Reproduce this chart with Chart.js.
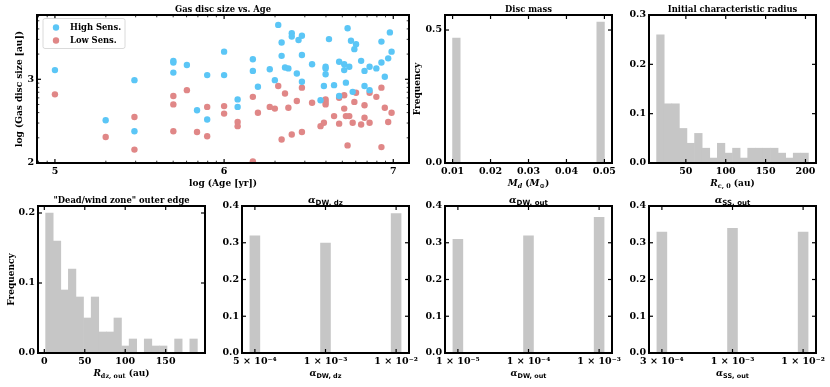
<!DOCTYPE html>
<html>
<head>
<meta charset="utf-8">
<script src="https://cdn.jsdelivr.net/npm/chart.js@4/dist/chart.umd.min.js"></script>
<style>
html, body { margin: 0; padding: 0; background: #fff; }
#wrap { position: relative; width: 830px; height: 387px; }
#wrap canvas { position: absolute; left: 0; top: 0; }
</style>
</head>
<body>
<div id="wrap">
<canvas id="age" width="830" height="387"></canvas>
<canvas id="mass" width="830" height="387"></canvas>
<canvas id="rc0" width="830" height="387"></canvas>
<canvas id="rdz" width="830" height="387"></canvas>
<canvas id="adwdz" width="830" height="387"></canvas>
<canvas id="adwout" width="830" height="387"></canvas>
<canvas id="assout" width="830" height="387"></canvas>
</div>
<script>
// --- scatter: log(Age [yr]) vs log(Gas disc size [au])
var highAge = [5.00, 5.30, 5.47, 5.47, 5.70, 5.70, 5.70, 5.78, 5.84, 5.90, 5.90, 6.00, 6.00, 6.08, 6.08, 6.17,
  6.17, 6.20, 6.27, 6.30, 6.32, 6.34, 6.34, 6.36, 6.38, 6.40, 6.40, 6.43, 6.44, 6.46, 6.46, 6.46,
  6.52, 6.57, 6.59, 6.60, 6.60, 6.60, 6.62, 6.65, 6.68, 6.68, 6.71, 6.71, 6.72, 6.73, 6.74, 6.75,
  6.76, 6.77, 6.78, 6.81, 6.83, 6.83, 6.86, 6.86, 6.90, 6.93, 6.93, 6.95, 6.97, 6.98, 6.99];
var highSize = [3.11, 2.51, 2.99, 2.38, 3.22, 3.20, 3.08, 3.17, 2.63, 3.05, 2.52, 3.33, 3.05, 2.76, 2.67, 3.24,
  3.10, 2.91, 3.12, 2.99, 3.65, 3.44, 3.28, 3.14, 3.13, 3.55, 3.51, 3.07, 3.47, 3.52, 3.29, 2.97,
  3.18, 2.75, 2.92, 3.15, 3.13, 3.06, 3.48, 2.93, 3.21, 2.80, 3.18, 3.11, 2.96, 3.61, 3.15, 3.46,
  2.85, 3.36, 3.42, 3.22, 3.10, 2.92, 2.87, 3.15, 3.13, 3.45, 3.20, 3.03, 3.25, 3.56, 3.33];
var lowAge = [5.00, 5.30, 5.47, 5.47, 5.70, 5.70, 5.70, 5.78, 5.84, 5.90, 5.90, 6.00, 6.00, 6.08, 6.08, 6.17,
  6.17, 6.20, 6.27, 6.30, 6.32, 6.34, 6.36, 6.38, 6.40, 6.43, 6.46, 6.46, 6.52, 6.57, 6.59, 6.60,
  6.60, 6.60, 6.65, 6.68, 6.68, 6.71, 6.71, 6.72, 6.73, 6.74, 6.76, 6.77, 6.78, 6.81, 6.83, 6.83,
  6.86, 6.86, 6.90, 6.93, 6.93, 6.95, 6.97, 6.99];
var lowSize = [2.82, 2.31, 2.55, 2.16, 2.80, 2.70, 2.38, 2.87, 2.37, 2.67, 2.32, 2.68, 2.59, 2.49, 2.44, 2.79,
  2.02, 2.60, 2.67, 2.65, 2.92, 2.28, 2.83, 2.66, 2.34, 2.74, 2.90, 2.37, 2.72, 2.44, 2.48, 2.76,
  2.73, 2.70, 2.56, 2.78, 2.47, 2.81, 2.65, 2.56, 2.21, 2.56, 2.48, 2.73, 2.84, 2.46, 2.69, 2.54,
  2.48, 2.84, 2.79, 2.90, 2.19, 2.66, 2.49, 2.60];

// --- histograms (bin centres + frequency)
var massBins = [0.011, 0.013, 0.015, 0.017, 0.019, 0.021, 0.023, 0.025, 0.027, 0.029,
  0.031, 0.033, 0.035, 0.037, 0.039, 0.041, 0.043, 0.045, 0.047, 0.049];
var massFreq = [0.47, 0, 0, 0, 0, 0, 0, 0, 0, 0, 0, 0, 0, 0, 0, 0, 0, 0, 0, 0.53];

var rcBins = [18.1, 27.6, 37.1, 46.6, 56.1, 65.7, 75.2, 84.7, 94.2, 103.7,
  113.3, 122.8, 132.3, 141.8, 151.3, 160.9, 170.4, 179.9, 189.4, 198.9];
var rcFreq = [0.26, 0.12, 0.12, 0.07, 0.04, 0.06, 0.03, 0.01, 0.04, 0.02,
  0.03, 0.01, 0.03, 0.03, 0.03, 0.03, 0.02, 0.01, 0.02, 0.02];

var rdzBins = [6.3, 15.7, 25.1, 34.4, 43.8, 53.2, 62.6, 71.9, 81.3, 90.7,
  100.1, 109.5, 118.8, 128.2, 137.6, 147.0, 156.4, 165.7, 175.1, 184.5];
var rdzFreq = [0.20, 0.16, 0.09, 0.12, 0.08, 0.05, 0.08, 0.03, 0.03, 0.05,
  0.01, 0.02, 0, 0.02, 0.01, 0.01, 0, 0.02, 0, 0.02];

var alphaPos = [0, 1, 2];
var aDwDzLabels = ['5 × 10⁻⁴', '1 × 10⁻³', '1 × 10⁻²'];
var aDwDzFreq = [0.32, 0.30, 0.38];
var aDwOutLabels = ['1 × 10⁻⁵', '1 × 10⁻⁴', '1 × 10⁻³'];
var aDwOutFreq = [0.31, 0.32, 0.37];
var aSsOutLabels = ['3 × 10⁻⁴', '1 × 10⁻³', '1 × 10⁻²'];
var aSsOutFreq = [0.33, 0.34, 0.33];

var SERIF = '"DejaVu Serif", serif';
var SANS = '"DejaVu Sans", sans-serif';
var BAR = '#c6c6c6';
var YW = 30, XH = 24;

// draw a label made of pieces, some italic / subscript
function drawMath(ctx, parts, x, y, size) {
  if (typeof parts === 'string') parts = [{t: parts}];
  var pcs = parts.map(function (p) {
    var s = p.sub ? size * 0.72 : size;
    var f = (p.it ? 'italic ' : '') + 'bold ' + s + 'px ' + (p.sans ? SANS : SERIF);
    ctx.font = f;
    return {t: p.t, f: f, w: ctx.measureText(p.t).width, dy: p.sub ? size * 0.22 : 0};
  });
  var total = pcs.reduce(function (a, p) { return a + p.w; }, 0);
  var cx = x - total / 2;
  ctx.textAlign = 'left';
  ctx.textBaseline = 'alphabetic';
  pcs.forEach(function (p) { ctx.font = p.f; ctx.fillText(p.t, cx, y + p.dy); cx += p.w; });
}

var deco = {
  id: 'deco',
  afterDraw: function (chart, args, o) {
    var ctx = chart.ctx, a = chart.chartArea, x = chart.scales.x, y = chart.scales.y;
    ctx.save();
    ctx.strokeStyle = '#000';
    var seg = function (x1, y1, x2, y2) { ctx.beginPath(); ctx.moveTo(x1, y1); ctx.lineTo(x2, y2); ctx.stroke(); };
    var marks = function (sc, vals, len, w) {
      ctx.lineWidth = w;
      vals.forEach(function (v) {
        if (v < sc.min || v > sc.max) return;
        var p = sc.getPixelForValue(v);
        if (sc.isHorizontal()) { seg(p, a.bottom, p, a.bottom - len); seg(p, a.top, p, a.top + len); }
        else { seg(a.left, p, a.left + len, p); seg(a.right, p, a.right - len, p); }
      });
    };
    marks(x, x.ticks.map(function (t) { return t.value; }), 4, 1.2);
    marks(y, y.ticks.map(function (t) { return t.value; }), 4, 1.2);
    if (o.minorX) marks(x, o.minorX, 2.3, 0.8);
    if (o.minorY) marks(y, o.minorY, 2.3, 0.8);

    if (o.legend) {
      var L = o.legend;
      ctx.fillStyle = 'rgba(255,255,255,0.85)';
      ctx.strokeStyle = '#d0d0d0';
      ctx.lineWidth = 0.8;
      ctx.beginPath();
      ctx.roundRect(a.left + 6, a.top + 3.5, 82, 30, 2);
      ctx.fill(); ctx.stroke();
      L.forEach(function (it, i) {
        var cy = a.top + 12.5 + i * 13;
        ctx.fillStyle = it.color;
        ctx.beginPath(); ctx.arc(a.left + 19, cy, 3.2, 0, Math.PI * 2); ctx.fill();
        ctx.fillStyle = '#000';
        ctx.font = 'bold 8.4px ' + SERIF;
        ctx.textAlign = 'left'; ctx.textBaseline = 'middle';
        ctx.fillText(it.text, a.left + 33, cy + 0.5);
      });
    }

    ctx.strokeStyle = '#000';
    ctx.lineWidth = 2;
    ctx.strokeRect(a.left, a.top, a.right - a.left, a.bottom - a.top);
    ctx.fillStyle = '#000';
    drawMath(ctx, o.title, (a.left + a.right) / 2, a.top - 3.5, o.titleSize || 8.4);
    if (o.xlabel) drawMath(ctx, o.xlabel, (a.left + a.right) / 2, a.bottom + 23, 9);
    if (o.ylabel) {
      ctx.save();
      ctx.translate(o.ylabelX, (a.top + a.bottom) / 2);
      ctx.rotate(-Math.PI / 2);
      drawMath(ctx, o.ylabel, 0, 3.2, 9);
      ctx.restore();
    }
    ctx.restore();
  }
};

function axis(ax, horiz) {
  return {
    type: 'linear', min: ax.min, max: ax.max, offset: false,
    grid: {display: false, drawTicks: false}, border: {display: false},
    afterFit: function (s) { if (horiz) s.height = XH; else s.width = YW; },
    afterBuildTicks: function (s) { s.ticks = ax.ticks.map(function (v) { return {value: v}; }); },
    ticks: {
      font: {family: 'DejaVu Serif', weight: 'bold', size: 9.5}, color: '#000',
      padding: 3, autoSkip: false, maxRotation: 0, minRotation: 0,
      callback: function (v, i) { return ax.labels[i]; }
    }
  };
}

function panel(id, box, type, datasets, o) {
  return new Chart(document.getElementById(id), {
    type: type,
    data: {datasets: datasets},
    options: {
      responsive: false, animation: false, events: [],
      layout: {autoPadding: false, padding: {left: box[0] - YW, top: box[1], right: 830 - box[2], bottom: 387 - box[3] - XH}},
      plugins: {legend: {display: false}, tooltip: {enabled: false}, deco: o.deco},
      scales: {x: axis(o.x, true), y: axis(o.y, false)}
    },
    plugins: [deco]
  });
}

function bars(xs, ys, pct) {
  return [{
    data: xs.map(function (x, i) { return {x: x, y: ys[i]}; }),
    backgroundColor: BAR, borderWidth: 0,
    barPercentage: pct, categoryPercentage: 1
  }];
}

// minor tick positions for the log axes of the scatter
var minorAge = [], minorSize = [];
[4, 5, 6].forEach(function (n) { for (var k = 2; k <= 9; k++) minorAge.push(n + Math.log10(k)); });
[2, 3].forEach(function (n) { for (var k = 2; k <= 9; k++) minorSize.push(n + Math.log10(k)); });

var yFreq4 = {min: 0, max: 0.4, ticks: [0, 0.1, 0.2, 0.3, 0.4], labels: ['0.0', '0.1', '0.2', '0.3', '0.4']};
var alphaX = function (labels) { return {min: -0.1825, max: 2.1825, ticks: alphaPos, labels: labels}; };

panel('age', [37, 15, 409, 163], 'scatter', [
  {data: highAge.map(function (x, i) { return {x: x, y: highSize[i]}; }), backgroundColor: '#5bc6f6', pointRadius: 3.2, borderWidth: 0},
  {data: lowAge.map(function (x, i) { return {x: x, y: lowSize[i]}; }), backgroundColor: '#e08787', pointRadius: 3.2, borderWidth: 0}
], {
  x: {min: 4.894, max: 7.093, ticks: [5, 6, 7], labels: ['5', '6', '7']},
  y: {min: 2, max: 3.768, ticks: [2, 3], labels: ['2', '3']},
  deco: {title: 'Gas disc size vs. Age', xlabel: 'log (Age [yr])', ylabel: 'log (Gas disc size [au])', ylabelX: 18.5,
    minorX: minorAge, minorY: minorSize,
    legend: [{text: 'High Sens.', color: '#5bc6f6'}, {text: 'Low Sens.', color: '#e08787'}]}
});

panel('mass', [445, 15, 612, 163], 'bar', bars(massBins, massFreq, 1), {
  x: {min: 0.008, max: 0.052, ticks: [0.01, 0.02, 0.03, 0.04, 0.05], labels: ['0.01', '0.02', '0.03', '0.04', '0.05']},
  y: {min: 0, max: 0.5565, ticks: [0, 0.5], labels: ['0.0', '0.5']},
  deco: {title: 'Disc mass', ylabel: 'Frequency', ylabelX: 417,
    xlabel: [{t: 'M', it: 1}, {t: 'd', it: 1, sub: 1}, {t: ' ('}, {t: 'M', it: 1}, {t: '⊙', sub: 1}, {t: ')'}]}
});

panel('rc0', [649, 15, 816, 163], 'bar', bars(rcBins, rcFreq, 1), {
  x: {min: 3.8, max: 213.2, ticks: [50, 100, 150, 200], labels: ['50', '100', '150', '200']},
  y: {min: 0, max: 0.3, ticks: [0, 0.1, 0.2, 0.3], labels: ['0.0', '0.1', '0.2', '0.3']},
  deco: {title: 'Initial characteristic radius',
    xlabel: [{t: 'R', it: 1}, {t: 'c, 0', sub: 1}, {t: ' (au)'}]}
});

panel('rdz', [38, 206, 205, 353], 'bar', bars(rdzBins, rdzFreq, 1), {
  x: {min: -7.8, max: 198.6, ticks: [0, 50, 100, 150], labels: ['0', '50', '100', '150']},
  y: {min: 0, max: 0.21, ticks: [0, 0.1, 0.2], labels: ['0.0', '0.1', '0.2']},
  deco: {title: '"Dead/wind zone" outer edge', ylabel: 'Frequency', ylabelX: 10.5,
    xlabel: [{t: 'R', it: 1}, {t: 'dz, out', sub: 1}, {t: ' (au)'}]}
});

panel('adwdz', [242, 206, 409, 353], 'bar', bars(alphaPos, aDwDzFreq, 0.15), {
  x: alphaX(aDwDzLabels), y: yFreq4,
  deco: {title: [{t: 'α', it: 1}, {t: 'DW, dz', sub: 1, sans: 1}], titleSize: 9.8,
    xlabel: [{t: 'α', it: 1}, {t: 'DW, dz', sub: 1, sans: 1}]}
});

panel('adwout', [445, 206, 612, 353], 'bar', bars(alphaPos, aDwOutFreq, 0.15), {
  x: alphaX(aDwOutLabels), y: yFreq4,
  deco: {title: [{t: 'α', it: 1}, {t: 'DW, out', sub: 1, sans: 1}], titleSize: 9.8,
    xlabel: [{t: 'α', it: 1}, {t: 'DW, out', sub: 1, sans: 1}]}
});

panel('assout', [649, 206, 816, 353], 'bar', bars(alphaPos, aSsOutFreq, 0.15), {
  x: alphaX(aSsOutLabels), y: yFreq4,
  deco: {title: [{t: 'α', it: 1}, {t: 'SS, out', sub: 1, sans: 1}], titleSize: 9.8,
    xlabel: [{t: 'α', it: 1}, {t: 'SS, out', sub: 1, sans: 1}]}
});
</script>
</body>
</html>
